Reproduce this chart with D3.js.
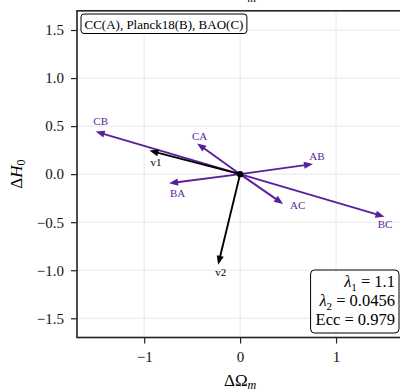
<!DOCTYPE html>
<html>
<head>
<meta charset="utf-8">
<script src="https://cdn.jsdelivr.net/npm/d3@7"></script>
<style>
  body { margin: 0; background: #fff; }
  svg text { font-family: "Liberation Serif", "Times New Roman", serif; }
</style>
</head>
<body>
<script>
// vector data (data units)
let vecNames = ["CB", "CA", "AB", "BA", "AC", "BC"];
let vecX = [-1.505, -0.448, 0.76, -0.74, 0.448, 1.505];
let vecY = [0.443, 0.32, 0.105, -0.095, -0.31, -0.443];

let eigNames = ["v1", "v2"];
let eigX = [-0.945, -0.229];
let eigY = [0.245, -0.943];

let xTicks = [-1, 0, 1];
let yTicks = [-1.5, -1.0, -0.5, 0.0, 0.5, 1.0, 1.5];

let statLines = [
  ["λ", "1", " = 1.1"],
  ["λ", "2", " = 0.0456"],
  ["Ecc", "", " = 0.979"]
];
let legendText = "CC(A), Planck18(B), BAO(C)";

// label offsets in px from arrow tip (layout, not data)
let labelOffset = {
  CB: [5, -10.5], CA: [2.5, -7.5], AB: [4, -8.5], BA: [8.5, 10],
  AC: [14.5, 1.5], BC: [0.5, 7], v1: [6.5, 11], v2: [2.5, 7]
};

let purple = "#5a1f9c";
let serif = "'Liberation Serif', 'Times New Roman', serif";

let width = 400, height = 389;
let margin = { top: 10.8, left: 77, right: -3.2, bottom: 51.5 };

let svg = d3.select("body").append("svg")
  .attr("width", width)
  .attr("height", height)
  .attr("font-family", serif);

let x = d3.scaleLinear().domain([-1.7, 1.7])
  .range([margin.left, width - margin.right]);
let y = d3.scaleLinear().domain([-1.7, 1.7])
  .range([height - margin.bottom, margin.top]);

// grid
svg.append("g").selectAll("line").data(xTicks).enter().append("line")
  .attr("x1", d => x(d)).attr("x2", d => x(d))
  .attr("y1", y(-1.7)).attr("y2", y(1.7))
  .attr("stroke", "#e8e8e8").attr("stroke-width", 1);
svg.append("g").selectAll("line").data(yTicks).enter().append("line")
  .attr("x1", x(-1.7)).attr("x2", x(1.7))
  .attr("y1", d => y(d)).attr("y2", d => y(d))
  .attr("stroke", "#e8e8e8").attr("stroke-width", 1);

// axes
let fmtY = d => d3.format(".1f")(d).replace("-", "−");
let fmtX = d => d3.format("d")(d).replace("-", "−");

let xAxis = svg.append("g")
  .attr("transform", "translate(0," + y(-1.7) + ")")
  .call(d3.axisBottom(x).tickValues(xTicks).tickFormat(fmtX).tickSize(6).tickPadding(8));
let yAxis = svg.append("g")
  .attr("transform", "translate(" + x(-1.7) + ",0)")
  .call(d3.axisLeft(y).tickValues(yTicks).tickFormat(fmtY).tickSize(6).tickPadding(7));

[xAxis, yAxis].forEach(a => {
  a.attr("font-family", serif).attr("font-size", 15);
  a.select(".domain").remove();
  a.selectAll("line").attr("stroke", "#222").attr("stroke-width", 1.2);
  a.selectAll("text").attr("fill", "#111");
});

// frame (top/right clipped by the window edge)
svg.append("rect")
  .attr("x", x(-1.7)).attr("y", y(1.7))
  .attr("width", x(1.7) - x(-1.7)).attr("height", y(-1.7) - y(1.7))
  .attr("fill", "none").attr("stroke", "#222").attr("stroke-width", 1.6);

// arrows
function drawArrow(g, x0, y0, x1, y1, color, lw) {
  let dx = x1 - x0, dy = y1 - y0;
  let len = Math.sqrt(dx * dx + dy * dy);
  let ux = dx / len, uy = dy / len;
  let hl = 9, hw = 3.6;
  let bx = x1 - ux * hl, by = y1 - uy * hl;
  g.append("line")
    .attr("x1", x0).attr("y1", y0).attr("x2", bx + ux * 1).attr("y2", by + uy * 1)
    .attr("stroke", color).attr("stroke-width", lw);
  g.append("path")
    .attr("d", "M" + x1 + "," + y1 +
      "L" + (bx - uy * hw) + "," + (by + ux * hw) +
      "L" + (bx + uy * hw) + "," + (by - ux * hw) + "Z")
    .attr("fill", color);
}

let arrows = svg.append("g");
vecNames.forEach((n, i) => {
  drawArrow(arrows, x(0), y(0), x(vecX[i]), y(vecY[i]), purple, 1.9);
});
eigNames.forEach((n, i) => {
  drawArrow(arrows, x(0), y(0), x(eigX[i]), y(eigY[i]), "#000", 1.9);
});

arrows.append("circle").attr("cx", x(0)).attr("cy", y(0)).attr("r", 3.2).attr("fill", "#000");

// labels
let labels = svg.append("g");
vecNames.forEach((n, i) => {
  labels.append("text")
    .attr("x", x(vecX[i]) + labelOffset[n][0])
    .attr("y", y(vecY[i]) + labelOffset[n][1])
    .attr("text-anchor", "middle").attr("dominant-baseline", "central")
    .attr("font-size", 11).attr("fill", purple).text(n);
});
eigNames.forEach((n, i) => {
  labels.append("text")
    .attr("x", x(eigX[i]) + labelOffset[n][0])
    .attr("y", y(eigY[i]) + labelOffset[n][1])
    .attr("text-anchor", "middle").attr("dominant-baseline", "central")
    .attr("font-size", 11).attr("fill", "#000").text(n);
});

// legend box top-left
let lg = svg.append("g");
let lt = lg.append("text")
  .attr("x", 84.5).attr("y", 28.5)
  .attr("font-size", 13).attr("fill", "#000").text(legendText);
let lw = lt.node().getComputedTextLength();
lg.insert("rect", "text")
  .attr("x", 81).attr("y", 14).attr("rx", 3).attr("ry", 3)
  .attr("width", lw + 7).attr("height", 19.5)
  .attr("fill", "#fff").attr("stroke", "#000").attr("stroke-width", 1);

// stats box bottom-right
let sg = svg.append("g");
let sRight = 395;
let sTexts = statLines.map((l, i) => {
  let t = sg.append("text")
    .attr("x", sRight).attr("y", 287 + i * 19)
    .attr("text-anchor", "end").attr("font-size", 16.5).attr("fill", "#000");
  t.append("tspan").attr("font-style", l[1] ? "italic" : "normal").text(l[0]);
  if (l[1]) {
    t.append("tspan").attr("font-size", 11).attr("dy", 4).text(l[1]);
    t.append("tspan").attr("dy", -4).text(l[2]);
  } else {
    t.append("tspan").text(l[2]);
  }
  return t;
});
let sw = d3.max(sTexts, t => t.node().getComputedTextLength());
sg.insert("rect", "text")
  .attr("x", sRight - sw - 5).attr("y", 270).attr("rx", 4).attr("ry", 4)
  .attr("width", sw + 9).attr("height", 63)
  .attr("fill", "#fff").attr("fill-opacity", 0.9)
  .attr("stroke", "#000").attr("stroke-width", 1);

// axis labels
let xl = svg.append("text")
  .attr("x", x(0)).attr("y", 386)
  .attr("text-anchor", "middle").attr("font-size", 17).attr("fill", "#000");
xl.append("tspan").text("ΔΩ");
xl.append("tspan").attr("font-size", 12).attr("font-style", "italic").attr("dy", 3).text("m");

let yl = svg.append("text")
  .attr("transform", "translate(22," + y(0) + ") rotate(-90)")
  .attr("text-anchor", "middle").attr("font-size", 17).attr("fill", "#000");
yl.append("tspan").text("Δ");
yl.append("tspan").attr("font-style", "italic").text("H");
yl.append("tspan").attr("font-size", 12).attr("dy", 3).text("0");

// title, mostly above the window
let tl = svg.append("text")
  .attr("x", x(0)).attr("y", -1.5)
  .attr("text-anchor", "middle").attr("font-size", 17).attr("fill", "#000");
tl.append("tspan").text("ΔΩ");
tl.append("tspan").attr("font-size", 12).attr("font-style", "italic").attr("dy", 3).text("m");
</script>
</body>
</html>
